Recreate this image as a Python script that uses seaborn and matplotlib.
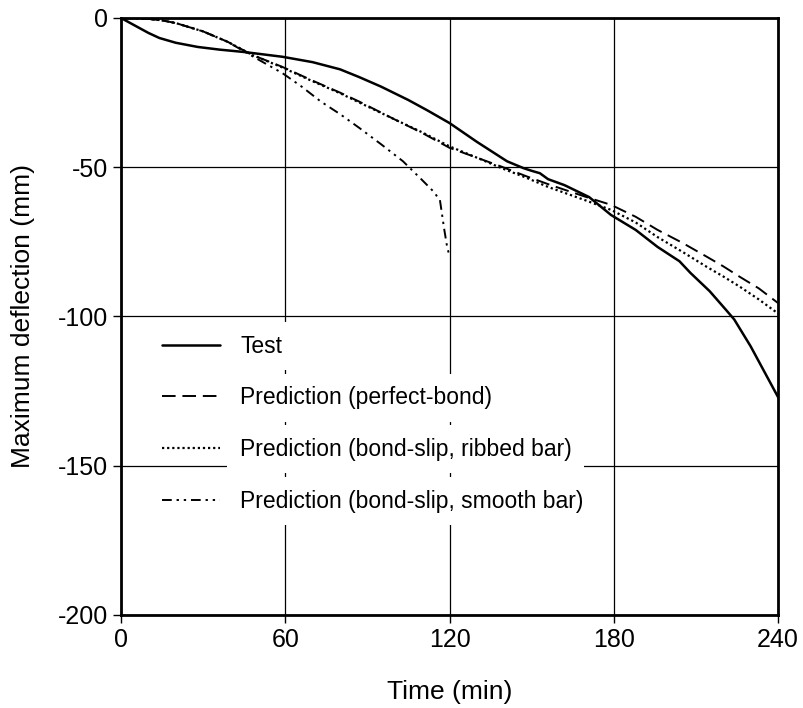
import numpy as np
import pandas as pd
import matplotlib
matplotlib.use("Agg")
import matplotlib.pyplot as plt
import seaborn as sns

# ---- data ----
test_t = [0, 5, 10, 14, 20, 28, 36, 45, 52, 59, 70, 80, 87, 95, 105, 112, 120, 130,
          141, 147, 150, 153, 156, 162, 171, 179, 188, 196, 204, 208, 215, 221, 224,
          230, 235, 240]
test_d = [0, -2.5, -5, -6.7, -8.3, -9.7, -10.6, -11.4, -12.2, -13, -14.8, -17.2, -19.8,
          -23, -27.5, -31, -35.2, -41.5, -48, -50.3, -51.2, -52, -54, -56, -60, -66,
          -71, -76.7, -81.5, -85.4, -91.5, -97.8, -101, -110, -118.5, -127]

pb_t = [0, 5, 10, 15, 20, 30, 39, 48, 59, 70, 80, 87, 100, 110, 120, 130, 139, 148,
        157, 170, 179, 188, 196, 205, 214, 220, 226, 233, 240]
pb_d = [0, -0.1, -0.3, -0.8, -1.7, -4.5, -8, -12.4, -16.4, -21, -25, -28, -34, -38.5,
        -43.5, -46.8, -49.8, -53, -56, -60, -62.6, -66.6, -71, -75.3, -80, -83.2,
        -86.7, -90.6, -95.5]

rib_t = [0, 5, 10, 15, 20, 30, 39, 48, 59, 70, 80, 87, 100, 110, 120, 130, 139, 148,
         156, 170, 179, 188, 196, 205, 214, 220, 226, 233, 240]
rib_d = [0, -0.1, -0.3, -0.8, -1.7, -4.5, -8, -12.4, -16.6, -21.2, -25.2, -28.3, -34,
         -38.3, -43, -46.8, -50.3, -53.5, -56.6, -61.2, -64.3, -68.5, -73.4, -78.3,
         -83.4, -86.6, -90, -94.3, -99]

smooth_t = [0, 5, 10, 15, 20, 30, 39, 48, 59, 66, 73, 80, 87, 95, 103, 110, 114,
            116.5, 117.3, 118, 119, 120]
smooth_d = [0, -0.1, -0.3, -0.8, -1.7, -4.5, -8, -12.8, -18.5, -23, -28, -32.2, -36.8,
            -42.3, -48, -54.3, -58, -61, -66, -70.4, -76, -80]

labels = ["Test", "Prediction (perfect-bond)", "Prediction (bond-slip, ribbed bar)",
          "Prediction (bond-slip, smooth bar)"]
x_ticks = [0, 60, 120, 180, 240]
y_ticks = [0, -50, -100, -150, -200]

# ---- style ----
sns.set_style("ticks")
plt.rcParams["font.family"] = ["Liberation Sans", "DejaVu Sans"]
plt.rcParams["axes.unicode_minus"] = False
plt.rcParams["text.color"] = "black"
plt.rcParams["axes.labelcolor"] = "black"

fig = plt.figure(figsize=(8.04, 7.08), dpi=100)
ax = fig.add_axes([0.1505, 0.1314, 0.8172, 0.8432])

series = [
    (test_t, test_d, labels[0], "-", 1.8),
    (pb_t, pb_d, labels[1], (0, (7, 3.5)), 1.4),
    (rib_t, rib_d, labels[2], (0, (1, 1.3)), 1.6),
    (smooth_t, smooth_d, labels[3], (0, (5, 2.5, 1.2, 2.5, 1.2, 2.5)), 1.4),
]
for t, d, lab, ls, lw in series:
    df = pd.DataFrame({"t": t, "d": d})
    sns.lineplot(data=df, x="t", y="d", ax=ax, color="black", lw=lw,
                 linestyle=ls, label=lab, estimator=None, sort=False)

ax.set_xlim(0, 240)
ax.set_ylim(-200, 0)
ax.set_xticks(x_ticks)
ax.set_yticks(y_ticks)
ax.set_xticklabels([str(v) for v in x_ticks])
ax.set_yticklabels([str(v) for v in y_ticks])
ax.set_axisbelow(True)
ax.grid(True, color="black", lw=0.9)
for s in ax.spines.values():
    s.set_visible(True)
    s.set_linewidth(2)
    s.set_color("black")
ax.tick_params(axis="both", direction="out", length=6, width=1, color="black",
               labelsize=18, labelcolor="black")
ax.set_xlabel("Time (min)", fontsize=19, labelpad=20, color="black")
ax.set_ylabel("Maximum deflection (mm)", fontsize=19, labelpad=16, color="black")

leg = ax.legend(loc="upper left", bbox_to_anchor=(0.048, 0.485), frameon=False,
                fontsize=16.5, handlelength=2.55, handletextpad=0.87,
                labelspacing=1.25, borderaxespad=0)
for txt in leg.get_texts():
    txt.set_color("black")
    txt.set_bbox(dict(boxstyle="square,pad=0.55", facecolor="white",
                      edgecolor="none"))

fig.savefig("out.png", dpi=100)
